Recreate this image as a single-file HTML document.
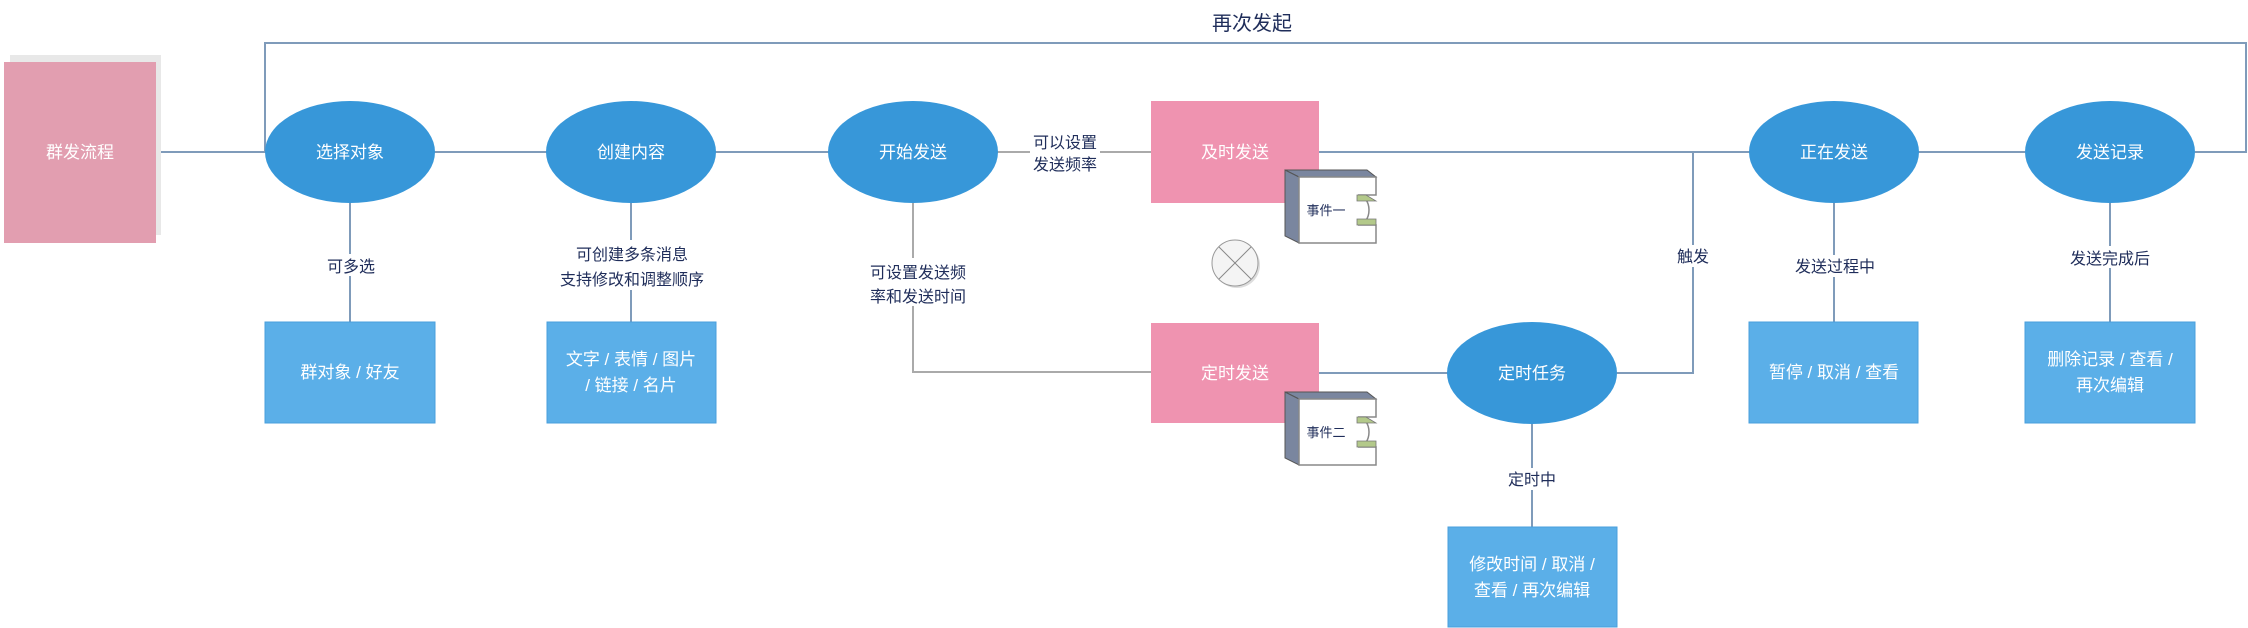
<!DOCTYPE html>
<html><head><meta charset="utf-8"><style>
html,body{margin:0;padding:0;background:#fff;}
svg{display:block;}
text{font-family:"Liberation Sans","Noto Sans CJK SC",sans-serif;}
.w{fill:#fff;font-size:17px;text-anchor:middle;}
.l{fill:#1f2d5a;font-size:16px;text-anchor:middle;}
</style></head><body>
<svg width="2248" height="628" viewBox="0 0 2248 628" xmlns="http://www.w3.org/2000/svg">
<g stroke="#7f9bba" stroke-width="2" fill="none">
<polyline points="265,152 265,43 2246,43 2246,152 2195,152"/>
<line x1="155" y1="152" x2="1151" y2="152"/>
<line x1="1319" y1="152" x2="2025" y2="152"/>
<polyline points="1617,373 1693,373 1693,152"/>
<line x1="1319" y1="373" x2="1448" y2="373"/>
<line x1="350" y1="203" x2="350" y2="322"/>
<line x1="631" y1="203" x2="631" y2="322"/>
<line x1="1834" y1="203" x2="1834" y2="322"/>
<line x1="2110" y1="203" x2="2110" y2="322"/>
<line x1="1532" y1="424" x2="1532" y2="527"/>
</g>
<g stroke="#aaa" stroke-width="2" fill="none">
<line x1="997" y1="152" x2="1151" y2="152"/>
<polyline points="913,203 913,372 1151,372"/>
</g>
<rect x="10" y="55" width="151" height="180" fill="#e8e8e8"/>
<rect x="4" y="62" width="152" height="181" fill="#e29eb0"/>
<text class="w" x="80" y="158">群发流程</text>
<g fill="#3797d9">
<ellipse cx="350" cy="152" rx="85" ry="51"/>
<ellipse cx="631" cy="152" rx="85" ry="51"/>
<ellipse cx="913" cy="152" rx="85" ry="51"/>
<ellipse cx="1834" cy="152" rx="85" ry="51"/>
<ellipse cx="2110" cy="152" rx="85" ry="51"/>
<ellipse cx="1532" cy="373" rx="85" ry="51"/>
</g>
<text class="w" x="350" y="158">选择对象</text>
<text class="w" x="631" y="158">创建内容</text>
<text class="w" x="913" y="158">开始发送</text>
<text class="w" x="1834" y="158">正在发送</text>
<text class="w" x="2110" y="158">发送记录</text>
<text class="w" x="1532" y="379">定时任务</text>
<g fill="#5bafe8" stroke="#4a9fdc" stroke-width="1">
<rect x="265" y="322" width="170" height="101"/>
<rect x="547" y="322" width="169" height="101"/>
<rect x="1749" y="322" width="169" height="101"/>
<rect x="2025" y="322" width="170" height="101"/>
<rect x="1448" y="527" width="169" height="100"/>
</g>
<text class="w" x="350" y="378">群对象 / 好友</text>
<text class="w" x="631" y="365">文字 / 表情 / 图片</text>
<text class="w" x="631" y="391">/ 链接 / 名片</text>
<text class="w" x="1834" y="378">暂停 / 取消 / 查看</text>
<text class="w" x="2110" y="365">删除记录 / 查看 /</text>
<text class="w" x="2110" y="391">再次编辑</text>
<text class="w" x="1532" y="570">修改时间 / 取消 /</text>
<text class="w" x="1532" y="596">查看 / 再次编辑</text>
<rect x="1151" y="101" width="168" height="102" fill="#ef93b0"/>
<rect x="1151" y="323" width="168" height="100" fill="#ef93b0"/>
<text class="w" x="1235" y="158">及时发送</text>
<text class="w" x="1235" y="379">定时发送</text>
<g>
<polygon points="1285,170 1367,170 1376,177 1299,177" fill="#7a869f" stroke="#555" stroke-width="1"/>
<polygon points="1285,170 1299,177 1299,243 1285,236" fill="#7a869f" stroke="#555" stroke-width="1"/>
<path d="M1299,177 H1376 V195 H1358 A11,15 0 0 1 1358,225 H1376 V243 H1299 Z" fill="#fff" stroke="#888" stroke-width="1.5"/>
<polygon points="1357,195 1366,195 1376,201 1357,201" fill="#b3c98a" stroke="#777" stroke-width="0.8"/>
<polygon points="1357,219 1376,219 1376,225 1357,225" fill="#b3c98a" stroke="#777" stroke-width="0.8"/>
<text x="1326" y="215" font-size="13" fill="#1f2d5a" text-anchor="middle">事件一</text>
</g>
<g transform="translate(0,222)">
<polygon points="1285,170 1367,170 1376,177 1299,177" fill="#7a869f" stroke="#555" stroke-width="1"/>
<polygon points="1285,170 1299,177 1299,243 1285,236" fill="#7a869f" stroke="#555" stroke-width="1"/>
<path d="M1299,177 H1376 V195 H1358 A11,15 0 0 1 1358,225 H1376 V243 H1299 Z" fill="#fff" stroke="#888" stroke-width="1.5"/>
<polygon points="1357,195 1366,195 1376,201 1357,201" fill="#b3c98a" stroke="#777" stroke-width="0.8"/>
<polygon points="1357,219 1376,219 1376,225 1357,225" fill="#b3c98a" stroke="#777" stroke-width="0.8"/>
<text x="1326" y="215" font-size="13" fill="#1f2d5a" text-anchor="middle">事件二</text>
</g>
<circle cx="1237" cy="265" r="23" fill="#ddd"/>
<circle cx="1235" cy="263" r="23" fill="#f4f4f4" stroke="#999" stroke-width="1"/>
<g stroke="#888" stroke-width="1"><line x1="1219" y1="247" x2="1251" y2="279"/><line x1="1251" y1="247" x2="1219" y2="279"/></g>
<g fill="#fff">
<rect x="320" y="254" width="62" height="22"/>
<rect x="545" y="240" width="175" height="50"/>
<rect x="862" y="258" width="102" height="48"/>
<rect x="1030" y="130" width="70" height="46"/>
<rect x="1673" y="245" width="40" height="22"/>
<rect x="1792" y="255" width="86" height="22"/>
<rect x="2067" y="246" width="86" height="22"/>
<rect x="1503" y="468" width="58" height="22"/>
<rect x="1205" y="8" width="95" height="28"/>
</g>
<text class="l" x="351" y="272">可多选</text>
<text class="l" x="632" y="260">可创建多条消息</text>
<text class="l" x="632" y="285">支持修改和调整顺序</text>
<text class="l" x="918" y="278">可设置发送频</text>
<text class="l" x="918" y="302">率和发送时间</text>
<text class="l" x="1065" y="148">可以设置</text>
<text class="l" x="1065" y="170">发送频率</text>
<text class="l" x="1693" y="262">触发</text>
<text class="l" x="1835" y="272">发送过程中</text>
<text class="l" x="2110" y="264">发送完成后</text>
<text class="l" x="1532" y="485">定时中</text>
<text x="1252" y="30" font-size="20" fill="#1f2d5a" text-anchor="middle">再次发起</text>
</svg>
</body></html>
